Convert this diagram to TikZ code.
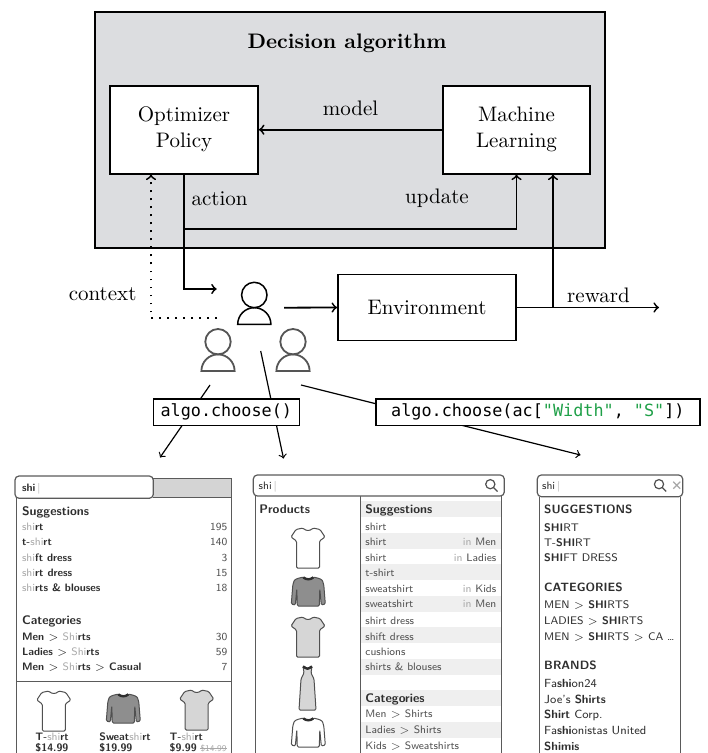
\documentclass[tikz,border=0pt]{standalone}
\usepackage{fontspec}
\usepackage{tikz}
\usetikzlibrary{calc}
\newfontfamily\codefont{DejaVu Sans Mono}[Ligatures=TeXOff]
\definecolor{DAFill}{HTML}{DCDDE0}
\definecolor{DAGreen}{HTML}{1FA048}
\definecolor{UIText}{HTML}{2E2E2E}
\definecolor{UISoft}{HTML}{505050}
\definecolor{UIQuery}{HTML}{A8A8A8}
\definecolor{UILine}{HTML}{5A5A5A}
\definecolor{UIBar}{HTML}{D4D4D4}
\definecolor{UIStripe}{HTML}{EFEFEF}
\definecolor{UIShirt}{HTML}{D6D6D6}
\definecolor{UISweat}{HTML}{8E8E8E}
\definecolor{UserGray}{HTML}{555555}
% typed part of the query, and the matched part
\newcommand{\qry}[1]{{\mdseries\color{UIQuery}#1}}
\newcommand{\hit}[1]{{\bfseries #1}}
\newcommand{\crumb}{{\mdseries\ $>$\ }}

\tikzset{
  pics/user/.style={code={
    \draw (-16.6,0) arc[start angle=180,end angle=360,radius=16.6] -- cycle;
    \draw (0,-29.3) circle[radius=12.7];
  }},
  pics/tee/.style={code={
    \draw[draw=UISoft,line width=0.5pt,fill=#1,rounded corners=0.6pt]
      (-5,0) .. controls (-2,3) and (2,3) .. (5,0) -- (12,1.5) -- (17,9)
      -- (11.5,13) -- (11.5,40) -- (-11.5,40) -- (-11.5,13) -- (-17,9)
      -- (-12,1.5) -- cycle;
  }},
  pics/sweat/.style={code={
    \draw[draw=UISoft,line width=0.5pt,fill=#1,rounded corners=0.6pt]
      (-5,0) .. controls (-2,2.5) and (2,2.5) .. (5,0) -- (11,1.5)
      .. controls (14,3) .. (15.5,8) -- (17,27) -- (13,28) -- (11.5,12)
      -- (11,29) -- (-11,29) -- (-11.5,12) -- (-13,28) -- (-17,27)
      -- (-15.5,8) .. controls (-14,3) .. (-11,1.5) -- cycle;
    \draw[line width=1.2pt,UIText] (-5,0.4) .. controls (-2,2.9) and (2,2.9) .. (5,0.4);
  }},
  pics/dress/.style={code={
    \draw[draw=UISoft,line width=0.5pt,fill=#1,rounded corners=0.6pt]
      (-4.5,0) .. controls (0,3) .. (4.5,0) -- (3.5,7) -- (6.5,13) -- (8.5,44)
      -- (-8.5,44) -- (-6.5,13) -- (-3.5,7) -- cycle;
    \draw[line width=1.2pt,UIText] (-4.5,0.4) .. controls (0,3.4) .. (4.5,0.4);
  }}
}

\begin{document}
\begin{tikzpicture}[x=0.5pt,y=-0.5pt,
  lbl/.style={font=\fontsize{10.5}{13}\selectfont},
  block/.style={draw,line width=0.9pt,fill=white,align=center,font=\fontsize{10.5}{13}\selectfont},
  flow/.style={line width=0.9pt,->},
  hint/.style={line width=0.9pt,->,dash pattern=on 0.9pt off 3.1pt},
  call/.style={draw,line width=0.7pt,fill=white,inner sep=0pt,minimum height=13.3pt,font=\codefont\fontsize{8.4}{10}\selectfont},
  pick/.style={line width=0.6pt,->},
  frame/.style={draw=UILine,line width=0.5pt},
  field/.style={draw=UILine,line width=0.6pt,fill=white,rounded corners=2pt},
  ui/.style={anchor=base west,inner sep=0pt,text=UIText,font=\sffamily\fontsize{5.4}{6}\selectfont},
  uibold/.style={ui,font=\sffamily\bfseries\fontsize{5.4}{6}\selectfont},
  uisoft/.style={ui,text=UISoft},
  uinum/.style={ui,anchor=base east,text=UISoft},
  uihead/.style={ui,font=\sffamily\bfseries\fontsize{6.2}{7}\selectfont},
  uicap/.style={ui,font=\sffamily\fontsize{5.5}{6.5}\selectfont},
  uibrand/.style={ui,font=\sffamily\fontsize{5.9}{7}\selectfont},
  uicaphead/.style={ui,font=\sffamily\bfseries\fontsize{6}{7}\selectfont}]
\path[use as bounding box] (0,0) rectangle (707,753);
\clip (0,0) rectangle (707,753);

% decision algorithm
\fill[DAFill] (95,12) rectangle (605,248);
\draw[line width=0.9pt] (95,12) rectangle (605,248);
\node[lbl,font=\bfseries\fontsize{10.5}{13}\selectfont] (title) at (347,43.5) {Decision algorithm};
\node[block,minimum width=74pt,minimum height=44pt] (opt) at (184,129.7) {Optimizer\\Policy};
\node[block,minimum width=73.5pt,minimum height=44pt] (ml) at (516.5,129.7) {Machine\\Learning};
\draw[flow] (ml) -- node[lbl,above=3pt] (model) {model} (opt);
\node[lbl] (action) at (219.6,198.6) {action};
\node[lbl] (update) at (437,198.6) {update};

% users and environment
\pic[line width=0.75pt] at (254.3,324.3) {user};
\pic[line width=0.9pt,UserGray] at (218,371) {user};
\pic[line width=0.9pt,UserGray] at (293,371) {user};
\coordinate (actin) at (216.7,289);
\coordinate (split) at (184,228.8);
\coordinate (userout) at (284,307.7);
\coordinate (ctx) at (217,318.3);
\node[block,minimum width=89pt,minimum height=33pt] (env) at (427,307.5) {Environment};
\coordinate (fb) at (553,307.5);
\coordinate (rwd) at (659,307.5);

\draw[flow] (opt.south) |- (actin);
\draw[flow] (split) -| (ml.south);
\draw[hint] (ctx) -| ($(opt.south)+(-33,0)$);
\draw[flow] (userout) -- (env.west);
\draw[flow] (env.east) -- (rwd);
\draw[flow] (fb) -- (fb |- ml.south);
\node[lbl] (context) at (102.6,294) {context};
\node[lbl] (reward) at (598.5,295) {reward};

% calls into the search ui
\coordinate (fromA) at (210,385);
\coordinate (fromB) at (260.7,351);
\coordinate (fromC) at (301,385);
\coordinate (toA) at (160,457.5);
\coordinate (toB) at (283.5,458.5);
\coordinate (toC) at (580.5,455);
\draw[pick] (fromA) -- (toA);
\draw[pick] (fromB) -- (toB);
\draw[pick] (fromC) -- (toC);
\node[call,minimum width=73pt] (callA) at (226.3,412.3) {algo.choose()};
\node[call,minimum width=162pt] (callB) at (537.9,412.3)
  {algo.choose(ac[\textcolor{DAGreen}{"Width"}, \textcolor{DAGreen}{"S"}])};

% ui 1: suggestions with counts
\fill[UIBar] (153.3,478.3) rectangle (231,497.3);
\draw[frame] (153.3,478.3) -- (231,478.3) -- (231,760);
\draw[frame] (153.3,497.3) -- (231,497.3);
\draw[frame] (16.7,497) -- (16.7,760);
\draw[frame] (16.7,681.7) -- (231,681.7);
\draw[field] (15,476) rectangle (153.3,498.3);
\node[uibold] at (21.7,491) {shi\,\textcolor{UIQuery}{\mdseries|}};
\node[uihead] at (21.7,515) {Suggestions};
\node[uibold] at (21.7,530.2) {\qry{shi}rt};
\node[uinum] at (227.7,530.2) {195};
\node[uibold] at (21.7,545.8) {t-\qry{shi}rt};
\node[uinum] at (227.7,545.8) {140};
\node[uibold] at (21.7,561.2) {\qry{shi}ft dress};
\node[uinum] at (227.7,561.2) {3};
\node[uibold] at (21.7,576.5) {\qry{shi}rt dress};
\node[uinum] at (227.7,576.5) {15};
\node[uibold] at (21.7,591.8) {\qry{shi}rts \& blouses};
\node[uinum] at (227.7,591.8) {18};
\node[uihead] at (21.7,624.3) {Categories};
\node[uibold] at (21.7,640.2) {Men\crumb\qry{Shi}rts};
\node[uinum] at (227.7,640.2) {30};
\node[uibold] at (21.7,655.2) {Ladies\crumb\qry{Shi}rts};
\node[uinum] at (227.7,655.2) {59};
\node[uibold] at (21.7,670.8) {Men\crumb\qry{Shi}rts\crumb Casual};
\node[uinum] at (227.7,670.8) {7};
\pic at (53.8,691) {tee=white};
\pic at (123.3,694) {sweat=UISweat};
\pic at (196.7,690) {tee=UIShirt};
\node[uibold] at (35,740.2) {T-\qry{shi}rt};
\node[uibold] at (35,751.2) {\$14.99};
\node[uibold] at (99,740.2) {Sweat\qry{shi}rt};
\node[uibold] at (99,751.2) {\$19.99};
\node[uibold] at (169.3,740.2) {T-\qry{shi}rt};
\node[uibold] (newprice) at (169.3,751.2) {\$9.99};
\node[ui,text=UIQuery,font=\sffamily\fontsize{4.4}{5}\selectfont] (oldprice) at ($(newprice.base east)+(3,0)$) {\$14.99};
\draw[UIQuery,line width=0.3pt] ($(oldprice.base west)+(0,-3.2)$) -- ($(oldprice.base east)+(0,-3.2)$);

% ui 2: products next to suggestions
\fill[UIStripe] (360,501.4) rectangle (501.7,517.2);
\fill[UIStripe] (360,532.9) rectangle (501.7,548.7);
\fill[UIStripe] (360,564.4) rectangle (501.7,580.2);
\fill[UIStripe] (360,595.9) rectangle (501.7,611.7);
\fill[UIStripe] (360,627.4) rectangle (501.7,643.2);
\fill[UIStripe] (360,658.9) rectangle (501.7,674.7);
\fill[UIStripe] (360,690.4) rectangle (501.7,706.2);
\fill[UIStripe] (360,721.9) rectangle (501.7,737.7);
\draw[frame] (255,496) -- (255,760);
\draw[frame] (501.7,496) -- (501.7,760);
\draw[frame] (360,496) -- (360,760);
\draw[field] (253.3,475) rectangle (504.3,496);
\node[ui] at (258.3,489) {shi\,\textcolor{UIQuery}{|}};
\draw[UISoft,line width=0.6pt] (490.3,484.2) circle[radius=4.6] (493.6,487.6) -- (497.5,491.5);
\node[uihead] at (259,513.6) {Products};
\node[uihead] at (365,513.6) {Suggestions};
\node[uisoft] at (365,530.2) {shirt};
\node[uisoft] at (365,545.8) {shirt};
\node[uinum] at (496.7,545.8) {\textcolor{UIQuery}{in} Men};
\node[uisoft] at (365,561.2) {shirt};
\node[uinum] at (496.7,561.2) {\textcolor{UIQuery}{in} Ladies};
\node[uisoft] at (365,576.8) {t-shirt};
\node[uisoft] at (365,592.5) {sweatshirt};
\node[uinum] at (496.7,592.5) {\textcolor{UIQuery}{in} Kids};
\node[uisoft] at (365,607.8) {sweatshirt};
\node[uinum] at (496.7,607.8) {\textcolor{UIQuery}{in} Men};
\node[uisoft] at (365,624.2) {shirt dress};
\node[uisoft] at (365,640.2) {shift dress};
\node[uisoft] at (365,655.2) {cushions};
\node[uisoft] at (365,670.8) {shirts \& blouses};
\node[uihead] at (365,702.6) {Categories};
\node[uisoft] at (365,717.8) {Men $>$ Shirts};
\node[uisoft] at (365,733.5) {Ladies $>$ Shirts};
\node[uisoft] at (365,749.2) {Kids $>$ Sweatshirts};
\pic at (308,528) {tee=white};
\pic at (308.3,577) {sweat=UISweat};
\pic at (308,617) {tee=UIShirt};
\pic at (307.5,666) {dress=UIShirt};
\pic at (308.3,718) {sweat=white};

% ui 3: upper case list
\draw[frame] (539.3,496.7) -- (539.3,760);
\draw[frame] (680,496.7) -- (680,760);
\draw[field] (537.3,475) rectangle (682.7,496.7);
\node[ui] at (541.7,489) {shi\,\textcolor{UIQuery}{|}};
\draw[UISoft,line width=0.6pt] (659,484.2) circle[radius=4.6] (662.3,487.6) -- (666.2,491.5);
\draw[UIQuery,line width=0.6pt] (673.2,481.7) -- (680.2,488.7) (673.2,488.7) -- (680.2,481.7);
\node[uicaphead] at (543.8,513.8) {SUGGESTIONS};
\node[uicap] at (543.8,531) {\hit{SHI}RT};
\node[uicap] at (543.8,546) {T-\hit{SHI}RT};
\node[uicap] at (543.8,561.7) {\hit{SHI}FT DRESS};
\node[uicaphead] at (543.8,591) {CATEGORIES};
\node[uicap] at (543.8,608.5) {MEN $>$ \hit{SHI}RTS};
\node[uicap] at (543.8,624.2) {LADIES $>$ \hit{SHI}RTS};
\node[uicap] at (543.8,640.2) {MEN $>$ \hit{SHI}RTS $>$ CA \ldots};
\node[uicaphead] at (543.8,669.5) {BRANDS};
\node[uibrand] at (543.8,687) {Fa\hit{shi}on24};
\node[uibrand] at (543.8,703) {Joe's \hit{Shirts}};
\node[uibrand] at (543.8,718) {\hit{Shirt} Corp.};
\node[uibrand] at (543.8,734) {Fa\hit{shi}onistas United};
\node[uibrand] at (543.8,750) {\hit{Shimis}};
\end{tikzpicture}
\end{document}
